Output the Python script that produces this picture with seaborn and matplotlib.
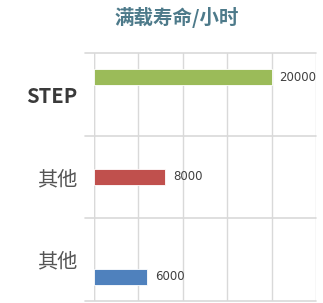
import numpy as np
import pandas as pd
import seaborn as sns
import matplotlib.pyplot as plt

# Chart data
labels = ["STEP", "其他", "其他"]
hours = [20000, 8000, 6000]
bar_colors = ["#9bbb59", "#c0504d", "#4f81bd"]

sns.set_theme(style="white")
plt.rcParams["font.family"] = ["Noto Sans CJK SC", "DejaVu Sans"]

df = pd.DataFrame({"row": list(range(len(hours))), "hours": hours})

fig = plt.figure(figsize=(3.23, 3.03), dpi=100)
ax = fig.add_axes([94 / 323, 2 / 303, 222 / 323, 248 / 303])

sns.barplot(
    data=df, x="hours", y="row", hue="row", palette=bar_colors,
    orient="h", width=0.16, legend=False, ax=ax, saturation=1,
    edgecolor="white", linewidth=0.6,
)

y_top, y_bot = -0.24, 2.24
ax.set_xlim(0, 25000)
ax.set_ylim(y_bot, y_top)

# vertical gridlines
ax.set_xticks(np.arange(0, 25001, 5000))
ax.xaxis.grid(True, color="#d9d9d9", linewidth=1)
ax.set_axisbelow(True)
ax.tick_params(axis="x", labelbottom=False, length=0)

# row separators, extending a little left of the axis
bounds = np.linspace(y_top, y_bot, len(labels) + 1)
for b in bounds:
    ax.plot([-0.04, 1], [b, b], transform=ax.get_yaxis_transform(),
            color="#d9d9d9", linewidth=1.2, clip_on=False, zorder=0.5)

# category labels at row centres
centers = (bounds[:-1] + bounds[1:]) / 2
ax.set_yticks(centers)
ax.set_yticklabels(labels)
ax.tick_params(axis="y", length=0, pad=12)
for i, t in enumerate(ax.get_yticklabels()):
    if labels[i] == "STEP":
        t.set_fontweight("bold")
        t.set_color("#3a3a3a")
        t.set_fontsize(14.5)
    else:
        t.set_color("#555555")
        t.set_fontsize(14.5)

for s in ax.spines.values():
    s.set_visible(False)
ax.axvline(0, color="#d9d9d9", linewidth=1, zorder=0.5)

ax.set_xlabel("")
ax.set_ylabel("")

# value labels
for i, v in enumerate(hours):
    ax.text(v + 900, i, f"{v}", va="center", ha="left",
            fontsize=8.5, color="#404040", family="DejaVu Sans")

fig.text(177 / 323, 1 - 17 / 303, "满载寿命/小时", ha="center", va="center",
         fontsize=14, color="#4d7a8a", fontweight="bold")

fig.savefig("out.png", dpi=100)
